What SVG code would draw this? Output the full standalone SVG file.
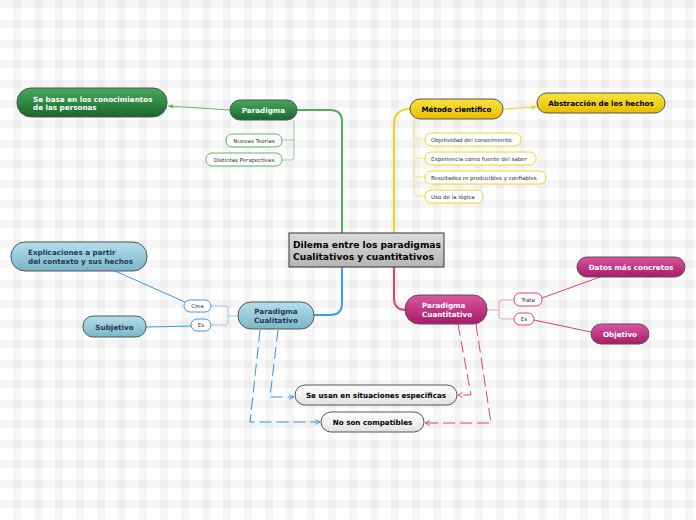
<svg xmlns="http://www.w3.org/2000/svg" width="696" height="520" viewBox="0 0 696 520">
<defs>
<pattern id="bg" width="21" height="20" patternUnits="userSpaceOnUse">
<rect width="21" height="20" fill="#ffffff"/>
<rect x="13" y="0" width="9" height="20" fill="#000" fill-opacity="0.035"/>
<rect x="0" y="0" width="21" height="8" fill="#000" fill-opacity="0.035"/>
</pattern>
<linearGradient id="gGreen" x1="0" y1="0" x2="0" y2="1"><stop offset="0" stop-color="#4aa85e"/><stop offset="1" stop-color="#17682c"/></linearGradient>
<linearGradient id="gYellow" x1="0" y1="0" x2="0" y2="1"><stop offset="0" stop-color="#fbe43e"/><stop offset="1" stop-color="#e6bd00"/></linearGradient>
<linearGradient id="gBlue" x1="0" y1="0" x2="0" y2="1"><stop offset="0" stop-color="#b5dfea"/><stop offset="1" stop-color="#7db5c9"/></linearGradient>
<linearGradient id="gPink" x1="0" y1="0" x2="0" y2="1"><stop offset="0" stop-color="#dc55a0"/><stop offset="1" stop-color="#a71a68"/></linearGradient>
<linearGradient id="gGray" x1="0" y1="0" x2="0" y2="1"><stop offset="0" stop-color="#dcdcdc"/><stop offset="1" stop-color="#b4b4b4"/></linearGradient>
<linearGradient id="gWhite" x1="0" y1="0" x2="0" y2="1"><stop offset="0" stop-color="#ffffff"/><stop offset="1" stop-color="#e2e2e2"/></linearGradient>
<marker id="aGreen" viewBox="0 0 10 10" refX="9" refY="5" markerWidth="6" markerHeight="6" orient="auto"><path d="M0,1 L9,5 L0,9 Z" fill="#5cb85c"/></marker>
<marker id="aYellow" viewBox="0 0 10 10" refX="9" refY="5" markerWidth="6" markerHeight="6" orient="auto"><path d="M0,1 L9,5 L0,9 Z" fill="#f2cf1a"/></marker>
<marker id="aBlue" viewBox="0 0 10 10" refX="9" refY="5" markerWidth="6" markerHeight="6" orient="auto"><path d="M1,1 L9,5 L1,9" fill="none" stroke="#3a8fe0" stroke-width="1.5"/></marker>
<marker id="aPink" viewBox="0 0 10 10" refX="9" refY="5" markerWidth="6" markerHeight="6" orient="auto"><path d="M1,1 L9,5 L1,9" fill="none" stroke="#e0407a" stroke-width="1.5"/></marker>
</defs>
<style>
.t{font-family:"DejaVu Sans",Verdana,sans-serif;font-weight:bold;font-size:7.2px}
.tw{fill:#ffffff}
.tb{fill:#000000}
.tn{fill:#1d3a52}
.s{font-family:"DejaVu Sans",Verdana,sans-serif;font-size:5.5px;fill:#333}
.node{stroke:#555;stroke-width:1}
.sub{fill:#ffffff;stroke-width:1}
.c{fill:none}
</style>
<rect width="696" height="520" fill="url(#bg)"/>

<g id="connectors">
<path class="c" d="M297,110 L330,110 Q342,110 342,122 L342,233" stroke="#4caf50" stroke-width="2"/>
<path class="c" d="M230,110 L168,106" stroke="#5cb85c" stroke-width="1" marker-end="url(#aGreen)"/>
<path class="c" d="M294,120 L294,157 Q294,160 291,160 L282,160 M294,140 L282,140" stroke="#9ad09a" stroke-width="1"/>

<path class="c" d="M394,233 L394,125 Q394,109 410,109" stroke="#f2d21e" stroke-width="2"/>
<path class="c" d="M503,109 L537,107" stroke="#f2cf1a" stroke-width="1" marker-end="url(#aYellow)"/>
<path class="c" d="M414,119 L414,193 Q414,196 417,196 L425,196 M414,136 Q414,139 417,139 L425,139 M414,155 Q414,158 417,158 L425,158 M414,174 Q414,177 417,177 L425,177" stroke="#f7e27a" stroke-width="1"/>

<path class="c" d="M342,267 L342,303 Q342,315 330,315 L314,315" stroke="#3a9ae8" stroke-width="2"/>
<path class="c" d="M238,316 L228,316 L228,309 Q228,306 225,306 L211,306 M228,316 L228,322 Q228,325 225,325 L211,325" stroke="#9cc8ee" stroke-width="1"/>
<path class="c" d="M185,302 L115,271" stroke="#3a9ae8" stroke-width="1"/>
<path class="c" d="M191,326 L146,327" stroke="#3a9ae8" stroke-width="1"/>

<path class="c" d="M394,267 L394,298 Q394,310 406,310" stroke="#e0407a" stroke-width="2"/>
<path class="c" d="M487,310 L499,310 L499,303 Q499,300 502,300 L514,300 M499,310 L499,316 Q499,319 502,319 L514,319" stroke="#f19bbb" stroke-width="1"/>
<path class="c" d="M542,298 L600,277" stroke="#e0407a" stroke-width="1"/>
<path class="c" d="M534,320 L591,332" stroke="#e0407a" stroke-width="1"/>

<path class="c" d="M278,330 L270,397 L294,397" stroke="#3a8fe0" stroke-width="1" stroke-dasharray="12,5" marker-end="url(#aBlue)"/>
<path class="c" d="M260,330 L250,422 L320,422" stroke="#3a8fe0" stroke-width="1" stroke-dasharray="12,5" marker-end="url(#aBlue)"/>
<path class="c" d="M458,324 L471,395 L458,395" stroke="#e0407a" stroke-width="1" stroke-dasharray="12,5" marker-end="url(#aPink)"/>
<path class="c" d="M476,324 L491,423 L425,423" stroke="#e0407a" stroke-width="1" stroke-dasharray="12,5" marker-end="url(#aPink)"/>
</g>

<g id="central">
<rect x="289" y="233" width="155" height="34" fill="url(#gGray)" stroke="#333" stroke-width="1"/>
<text x="293" y="248" font-family="DejaVu Sans,Verdana,sans-serif" font-weight="bold" font-size="9.1" fill="#000">Dilema entre los paradigmas</text>
<text x="293" y="260" font-family="DejaVu Sans,Verdana,sans-serif" font-weight="bold" font-size="9.1" fill="#000">Cualitativos y cuantitativos</text>
</g>

<g id="paradigma">
<rect class="node" x="230" y="100" width="67" height="20" rx="10" fill="url(#gGreen)"/>
<text class="t tw" x="263.5" y="113" text-anchor="middle">Paradigma</text>
</g>
<g id="se-basa">
<rect class="node" x="17" y="88" width="150" height="29" rx="14" fill="url(#gGreen)"/>
<text class="t tw" x="33" y="102">Se basa en los conocimientos</text>
<text class="t tw" x="33" y="110">de las personas</text>
</g>
<g id="nuevas-teorias">
<rect class="sub" x="226" y="134" width="56" height="13" rx="6" stroke="#5cb85c"/>
<text class="s" x="254" y="142.5" text-anchor="middle">Nuevas Teorias</text>
</g>
<g id="distintas-perspectivas">
<rect class="sub" x="206" y="153" width="76" height="13" rx="6" stroke="#5cb85c"/>
<text class="s" x="244" y="161.5" text-anchor="middle">Distintas Perspectivas</text>
</g>

<g id="metodo">
<rect class="node" x="410" y="99" width="93" height="20" rx="10" fill="url(#gYellow)"/>
<text class="t tb" x="456.5" y="112" text-anchor="middle">Método científico</text>
</g>
<g id="abstraccion">
<rect class="node" x="537" y="93" width="128" height="20" rx="10" fill="url(#gYellow)"/>
<text class="t tb" x="601" y="106" text-anchor="middle">Abstracción de los hechos</text>
</g>
<g id="objetividad">
<rect class="sub" x="425" y="133" width="96" height="13" rx="6" stroke="#f5d425"/>
<text class="s" x="431" y="141.5">Objetividad del conocimiento</text>
</g>
<g id="experiencia">
<rect class="sub" x="425" y="152" width="111" height="13" rx="6" stroke="#f5d425"/>
<text class="s" x="431" y="160.5">Experiencia como fuente del saber</text>
</g>
<g id="resultados">
<rect class="sub" x="425" y="171" width="121" height="13" rx="6" stroke="#f5d425"/>
<text class="s" x="431" y="179.5">Resultados re producibles y confiables</text>
</g>
<g id="uso-logica">
<rect class="sub" x="425" y="190" width="58" height="13" rx="6" stroke="#f5d425"/>
<text class="s" x="431" y="198.5">Uso de la lógica</text>
</g>

<g id="cualitativo">
<rect class="node" x="238" y="302" width="76" height="27" rx="13" fill="url(#gBlue)"/>
<text class="t tn" x="276" y="313.5" text-anchor="middle">Paradigma</text>
<text class="t tn" x="276" y="322.5" text-anchor="middle">Cualitativo</text>
</g>
<g id="crea">
<rect class="sub" x="184" y="300" width="27" height="12" rx="6" stroke="#3a9ae8"/>
<text class="s" x="197.5" y="308" text-anchor="middle">Crea</text>
</g>
<g id="es-cual">
<rect class="sub" x="191" y="319" width="20" height="12" rx="6" stroke="#3a9ae8"/>
<text class="s" x="201" y="327" text-anchor="middle">Es</text>
</g>
<g id="explicaciones">
<rect class="node" x="11" y="242" width="136" height="29" rx="14" fill="url(#gBlue)"/>
<text class="t tn" x="28" y="255">Explicaciones a partir</text>
<text class="t tn" x="28" y="264">del contexto y sus hechos</text>
</g>
<g id="subjetivo">
<rect class="node" x="83" y="316" width="63" height="21" rx="10" fill="url(#gBlue)"/>
<text class="t tn" x="114.5" y="329.5" text-anchor="middle">Subjetivo</text>
</g>

<g id="cuantitativo">
<rect class="node" x="405" y="295" width="82" height="29" rx="14" fill="url(#gPink)"/>
<text class="t tw" x="422" y="307.5">Paradigma</text>
<text class="t tw" x="422" y="317">Cuantitativo</text>
</g>
<g id="trata">
<rect class="sub" x="514" y="293" width="28" height="13" rx="6" stroke="#e0407a"/>
<text class="s" x="528" y="301.5" text-anchor="middle">Trata</text>
</g>
<g id="es-cuant">
<rect class="sub" x="514" y="313" width="20" height="12" rx="6" stroke="#e0407a"/>
<text class="s" x="524" y="321" text-anchor="middle">Es</text>
</g>
<g id="datos">
<rect class="node" x="577" y="257" width="108" height="20" rx="10" fill="url(#gPink)"/>
<text class="t tw" x="631" y="270" text-anchor="middle">Datos más concretos</text>
</g>
<g id="objetivo">
<rect class="node" x="591" y="324" width="58" height="20" rx="10" fill="url(#gPink)"/>
<text class="t tw" x="620" y="337" text-anchor="middle">Objetivo</text>
</g>

<g id="se-usan">
<rect class="node" x="295" y="385" width="162" height="20" rx="10" fill="url(#gWhite)"/>
<text class="t tb" x="376" y="398" text-anchor="middle">Se usan en situaciones especificas</text>
</g>
<g id="no-compatibles">
<rect class="node" x="321" y="412" width="103" height="20" rx="10" fill="url(#gWhite)"/>
<text class="t tb" x="372.5" y="425" text-anchor="middle">No son compatibles</text>
</g>
</svg>
